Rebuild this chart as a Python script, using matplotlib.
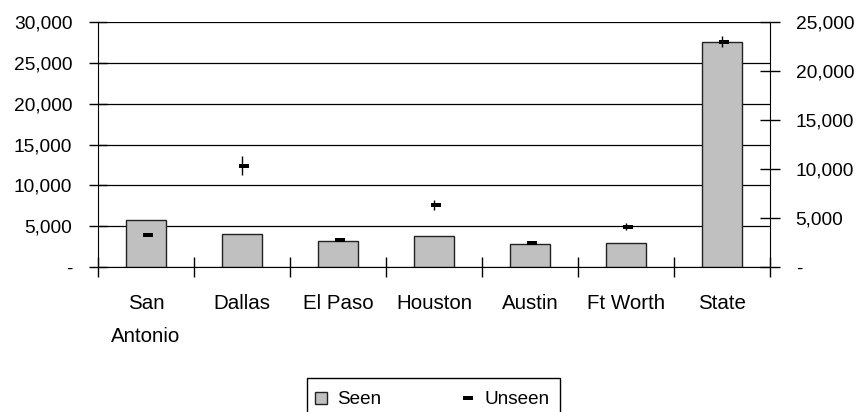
import matplotlib
matplotlib.use("Agg")
import matplotlib.pyplot as plt
from matplotlib.ticker import FuncFormatter, FixedLocator
from matplotlib.lines import Line2D
from matplotlib.patches import Patch, Rectangle
import numpy as np

plt.rcParams['font.family'] = ['Liberation Sans', 'DejaVu Sans']

categories = ["San\nAntonio", "Dallas", "El Paso", "Houston", "Austin", "Ft Worth", "State"]
seen = [5800, 4100, 3150, 3750, 2800, 3000, 27600]
unseen = [3250, 10350, 2800, 6350, 2400, 4100, 23000]
unseen_err = [100, 1000, 150, 500, 100, 350, 600]

left_ticks = [0, 5000, 10000, 15000, 20000, 25000, 30000]
right_ticks = [0, 5000, 10000, 15000, 20000, 25000]

W, H = 863, 412


def thousands(v, pos=None):
    return "-" if v == 0 else f"{int(v):,}"


fig = plt.figure(figsize=(W / 100, H / 100), dpi=100)
ax = fig.add_axes([98 / W, 1 - 267 / H, 672 / W, 245 / H])
x = np.arange(len(categories))

ax.bar(x, seen, width=0.41, color="#c0c0c0", edgecolor="#222222", linewidth=1.0, zorder=2)
ax.set_xlim(-0.5, len(categories) - 0.5)
ax.set_ylim(0, 30000)
ax.yaxis.set_major_locator(FixedLocator(left_ticks))
ax.yaxis.set_major_formatter(FuncFormatter(thousands))
ax.grid(axis="y", color="#000000", linewidth=0.9, zorder=0)
ax.set_axisbelow(True)

# category boundaries carry the tick marks, centres carry the labels
ax.set_xticks(np.arange(-0.5, len(categories), 1.0))
ax.set_xticklabels([])
ax.set_xticks(x, minor=True)
ax.set_xticklabels(categories, minor=True, fontsize=14.8, linespacing=1.93)
ax.tick_params(axis="x", which="major", direction="inout", length=15, width=1.0, color="#000000")
ax.tick_params(axis="x", which="minor", length=0, pad=19.5)
ax.tick_params(axis="y", direction="inout", length=13, width=1.0, labelsize=13.8, pad=12)

for side in ("top", "right"):
    ax.spines[side].set_visible(False)
ax.spines["left"].set_color("#000000")
ax.spines["bottom"].set_color("#000000")

ax2 = ax.twinx()
ax2.set_ylim(0, 25000)
ax2.yaxis.set_major_locator(FixedLocator(right_ticks))
ax2.yaxis.set_major_formatter(FuncFormatter(thousands))
ax2.tick_params(axis="y", direction="inout", length=15, width=1.0, labelsize=13.8, pad=11)
for side in ("top", "left", "bottom"):
    ax2.spines[side].set_visible(False)
ax2.spines["right"].set_color("#000000")

dash = [(-1, -0.45), (1, -0.45), (1, 0.45), (-1, 0.45), (-1, -0.45)]
ax2.errorbar(x, unseen, yerr=unseen_err, fmt="none", ecolor="#000000", elinewidth=1.0, capsize=0, zorder=3)
ax2.plot(x + 0.026, unseen, linestyle="none", marker=dash, markersize=6.8,
         color="#000000", markeredgewidth=0, zorder=4)

# legend box runs off the bottom edge of the figure
fig.add_artist(Rectangle((307 / W, -0.05), 253 / W, (1 - 378 / H) + 0.05,
                         transform=fig.transFigure, facecolor="white",
                         edgecolor="#000000", linewidth=1.0))
handles = [
    Patch(facecolor="#c0c0c0", edgecolor="#222222", linewidth=1.0),
    Line2D([], [], linestyle="none", marker=dash, markersize=6.8, color="#000000", markeredgewidth=0),
]
fig.legend(handles, ["Seen", "Unseen"], loc="center left",
           bbox_to_anchor=(315 / W, 1 - 400 / H), ncol=2, frameon=False,
           fontsize=13.6, handlelength=0.64, handleheight=0.64, handletextpad=0.53,
           columnspacing=4.3, borderaxespad=0, borderpad=0)

fig.savefig("out.png", dpi=100)
